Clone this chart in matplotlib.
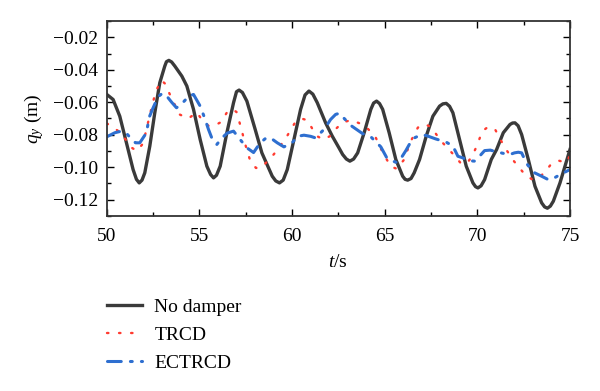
import matplotlib
matplotlib.use('Agg')
import matplotlib.pyplot as plt
from matplotlib.ticker import MultipleLocator, FuncFormatter

# No damper
t_nd = [50.0, 50.34, 50.70, 51.06, 51.42, 51.60, 51.75, 51.90, 52.05, 52.32,
        52.59, 52.86, 53.13, 53.22, 53.35, 53.50, 53.67, 54.05, 54.32, 54.68,
        55.04, 55.40, 55.60, 55.76, 55.92, 56.12, 56.48, 56.84, 57.00, 57.14,
        57.32, 57.56, 58.01, 58.37, 58.93, 59.12, 59.32, 59.52, 59.74, 60.10,
        60.46, 60.70, 60.91, 61.12, 61.36, 61.81, 62.17, 62.53, 62.73, 62.93,
        63.12, 63.32, 63.54, 63.89, 64.25, 64.40, 64.56, 64.72, 64.89, 65.24,
        65.60, 65.97, 66.10, 66.24, 66.42, 66.59, 66.88, 67.24, 67.60, 67.96,
        68.14, 68.32, 68.50, 68.68, 69.04, 69.40, 69.76, 69.90, 70.03, 70.20,
        70.39, 70.75, 71.04, 71.40, 71.76, 71.90, 72.03, 72.20, 72.39, 72.75,
        73.11, 73.47, 73.63, 73.78, 73.94, 74.10, 74.46, 74.73, 75.0]
q_nd = [-0.0552, -0.0583, -0.0686, -0.0850, -0.1015, -0.1075, -0.1097, -0.1080, -0.1035, -0.0871,
        -0.0665, -0.0480, -0.0377, -0.0350, -0.0342, -0.0352, -0.0377, -0.0439, -0.0500, -0.0644,
        -0.0830, -0.0994, -0.1045, -0.1066, -0.1050, -0.0994, -0.0788, -0.0603, -0.0535, -0.0525,
        -0.0540, -0.0593, -0.0768, -0.0912, -0.1056, -0.1085, -0.1097, -0.1080, -0.1015, -0.0830,
        -0.0644, -0.0555, -0.0531, -0.0550, -0.0603, -0.0727, -0.0809, -0.0881, -0.0922, -0.0950,
        -0.0963, -0.0950, -0.0912, -0.0788, -0.0644, -0.0605, -0.0593, -0.0608, -0.0644, -0.0788,
        -0.0953, -0.1056, -0.1075, -0.1080, -0.1070, -0.1035, -0.0953, -0.0809, -0.0686, -0.0624,
        -0.0610, -0.0607, -0.0625, -0.0665, -0.0830, -0.0994, -0.1097, -0.1120, -0.1128, -0.1115,
        -0.1077, -0.0953, -0.0891, -0.0788, -0.0737, -0.0728, -0.0727, -0.0745, -0.0799, -0.0953,
        -0.1118, -0.1220, -0.1245, -0.1253, -0.1240, -0.1210, -0.1097, -0.0994, -0.0891]

# TRCD
t_tr = [50.0, 50.76, 51.3, 51.62, 51.96, 52.18, 52.41, 52.65, 52.95, 53.13,
        53.55, 53.94, 54.4, 54.86, 55.18, 55.48, 55.8, 56.15, 56.5, 56.8,
        57.0, 57.23, 57.5, 57.75, 58.05, 58.36, 59.02, 59.65, 60.13, 60.5,
        60.82, 61.05, 61.31, 61.7, 62.04, 62.4, 62.75, 63.2, 63.71, 64.1,
        64.48, 64.9, 65.33, 65.65, 66.05, 66.38, 66.79, 67.15, 67.5, 68.01,
        68.71, 69.1, 69.43, 69.7, 69.95, 70.27, 70.6, 70.97, 71.44, 71.93,
        72.57, 72.95, 73.31, 73.65, 73.99, 74.4, 74.78, 75.0]
q_tr = [-0.0730, -0.0788, -0.0877, -0.0900, -0.0854, -0.0747, -0.0637, -0.0530, -0.0465, -0.0484,
        -0.0588, -0.0676, -0.0700, -0.0663, -0.0715, -0.0745, -0.0745, -0.0723, -0.0660, -0.0644,
        -0.0660, -0.0751, -0.0870, -0.0964, -0.1005, -0.1002, -0.0920, -0.0824, -0.0731, -0.0700,
        -0.0711, -0.0755, -0.0807, -0.0830, -0.0809, -0.0760, -0.0723, -0.0710, -0.0733, -0.0765,
        -0.0809, -0.0912, -0.0996, -0.1010, -0.0953, -0.0846, -0.0756, -0.0735, -0.0752, -0.0835,
        -0.0922, -0.0975, -0.0978, -0.0935, -0.0875, -0.0778, -0.0750, -0.0770, -0.0871, -0.0957,
        -0.1046, -0.1075, -0.1066, -0.1030, -0.0980, -0.0960, -0.0972, -0.0930]

# ECTRCD
t_ec = [50.0, 50.43, 50.79, 51.05, 51.3, 51.55, 51.78, 52.14, 52.29, 52.5,
        52.77, 53.0, 53.22, 53.5, 53.76, 54.0, 54.18, 54.45, 54.68, 55.04,
        55.31, 55.49, 55.7, 55.94, 56.21, 56.5, 56.84, 57.2, 57.55, 57.92,
        58.28, 58.6, 58.84, 59.2, 59.56, 60.0, 60.3, 60.64, 61.0, 61.27,
        61.75, 62.08, 62.35, 62.55, 62.73, 63.17, 63.8, 64.25, 64.79, 65.1,
        65.35, 65.6, 65.78, 66.14, 66.5, 66.97, 67.24, 67.75, 68.32, 68.68,
        68.95, 69.22, 69.5, 69.85, 70.1, 70.39, 70.7, 71.04, 71.4, 71.76,
        72.0, 72.21, 72.39, 72.66, 73.02, 73.47, 73.83, 74.1, 74.37, 74.82,
        75.0]
q_ec = [-0.0813, -0.0788, -0.0778, -0.0790, -0.0823, -0.0850, -0.0850, -0.0788, -0.0692, -0.0634,
        -0.0566, -0.0545, -0.0560, -0.0600, -0.0634, -0.0615, -0.0593, -0.0560, -0.0552, -0.0624,
        -0.0706, -0.0768, -0.0830, -0.0860, -0.0820, -0.0790, -0.0778, -0.0830, -0.0880, -0.0910,
        -0.0850, -0.0820, -0.0820, -0.0850, -0.0875, -0.0850, -0.0810, -0.0803, -0.0810, -0.0820,
        -0.0764, -0.0706, -0.0675, -0.0668, -0.0690, -0.0743, -0.0793, -0.0813, -0.0875, -0.0940,
        -0.0958, -0.0970, -0.0963, -0.0898, -0.0825, -0.0800, -0.0805, -0.0826, -0.0846, -0.0870,
        -0.0933, -0.0943, -0.0960, -0.0963, -0.0935, -0.0898, -0.0895, -0.0906, -0.0915, -0.0922,
        -0.0912, -0.0908, -0.0912, -0.0978, -0.1031, -0.1056, -0.1077, -0.1070, -0.1052, -0.1025,
        -0.1015]

labels = ['No damper', 'TRCD', 'ECTRCD']


def main():
    plt.rcParams['font.family'] = ['Liberation Serif', 'DejaVu Serif']
    plt.rcParams['mathtext.fontset'] = 'custom'
    plt.rcParams['mathtext.it'] = 'Liberation Serif:italic'
    plt.rcParams['mathtext.rm'] = 'Liberation Serif'
    plt.rcParams['font.size'] = 14

    fig = plt.figure(figsize=(6, 3.91), dpi=100)
    ax = fig.add_axes([0.178, 0.448, 0.772, 0.498])

    l1, = ax.plot(t_nd, q_nd, color='#3a3a3a', lw=2.4, solid_joinstyle='round')
    l2, = ax.plot(t_tr, q_tr, color='#ff3b30', lw=1.7,
                  linestyle=(0, (0.6, 4.5)), dash_capstyle='round')
    l3, = ax.plot(t_ec, q_ec, color='#2e6fd0', lw=2.2,
                  linestyle=(0, (4.5, 3.0, 0.6, 3.0)), dash_capstyle='round')

    ax.set_xlim(50, 75)
    ax.set_ylim(-0.13, -0.01)
    ax.xaxis.set_major_locator(MultipleLocator(5))
    ax.xaxis.set_minor_locator(MultipleLocator(2.5))
    ax.yaxis.set_major_locator(MultipleLocator(0.02))
    ax.yaxis.set_minor_locator(MultipleLocator(0.01))
    ax.yaxis.set_major_formatter(FuncFormatter(lambda v, p: ('%.2f' % v).replace('-', '\u2212')))
    ax.tick_params(which='both', direction='in', top=True, right=True, width=1.0)
    ax.tick_params(which='major', length=5)
    ax.tick_params(which='minor', length=3)
    ax.tick_params(axis='x', pad=9)
    ax.tick_params(axis='y', pad=6)
    for s in ax.spines.values():
        s.set_linewidth(1.3)
        s.set_color('#333333')

    ax.set_xlabel(r'$t$/s', labelpad=6)
    ax.set_ylabel(r'$q_y$ (m)', labelpad=5)

    fig.legend([l1, l2, l3], labels, loc='upper left',
               bbox_to_anchor=(0.178, 0.238), frameon=False,
               handlelength=1.8, handletextpad=0.65, labelspacing=0.55,
               borderpad=0, borderaxespad=0)

    fig.savefig('out.png', dpi=100)


if __name__ == '__main__':
    main()
